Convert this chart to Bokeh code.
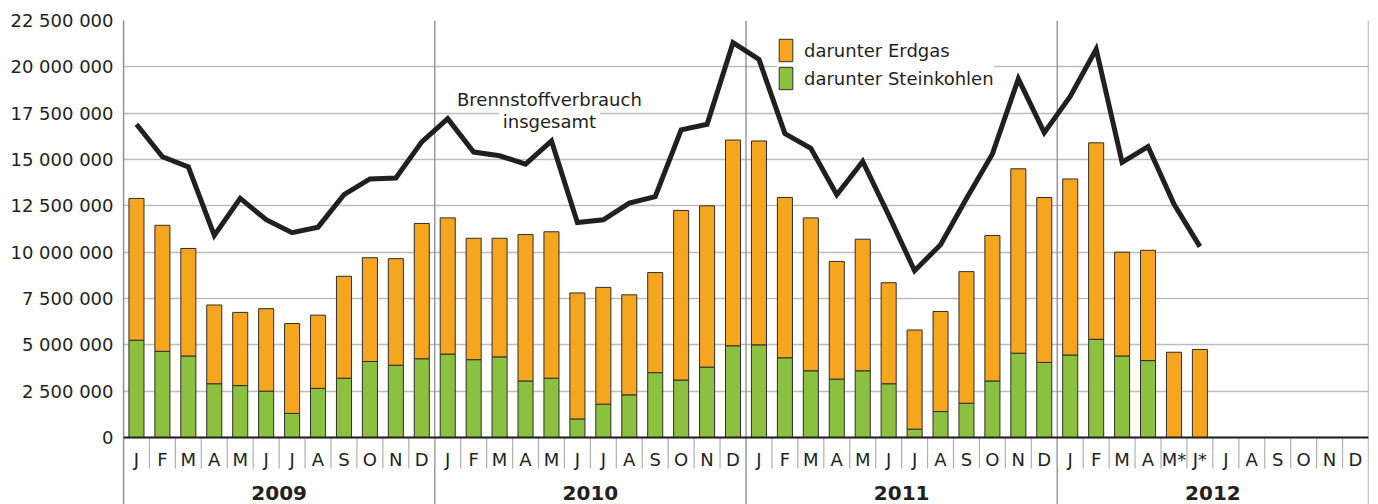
from bokeh.plotting import figure
from bokeh.models import Range1d, FixedTicker, Legend, LegendItem, Label, Span, ColumnDataSource
from bokeh.embed import file_html
from bokeh.resources import INLINE
from bokeh.core.properties import value

# ---------------- data ----------------
years = ["2009", "2010", "2011", "2012"]
month_letters = ["J", "F", "M", "A", "M", "J", "J", "A", "S", "O", "N", "D"]
month_labels = month_letters * 3 + ["J", "F", "M", "A", "M*", "J*", "J", "A", "S", "O", "N", "D"]

# bar height (Erdgas + Steinkohlen), months 2009-01 .. 2012-06
bar_total = [
    12900000, 11450000, 10200000, 7150000, 6750000, 6950000, 6150000, 6600000, 8700000, 9700000, 9650000, 11550000,
    11850000, 10750000, 10750000, 10950000, 11100000, 7800000, 8100000, 7700000, 8900000, 12250000, 12500000, 16050000,
    16000000, 12950000, 11850000, 9500000, 10700000, 8350000, 5800000, 6800000, 8950000, 10900000, 14500000, 12950000,
    13950000, 15900000, 10000000, 10100000, 4600000, 4750000,
]
steinkohlen = [
    5250000, 4650000, 4400000, 2900000, 2800000, 2500000, 1300000, 2650000, 3200000, 4100000, 3900000, 4250000,
    4500000, 4200000, 4350000, 3050000, 3200000, 1000000, 1800000, 2300000, 3500000, 3100000, 3800000, 4950000,
    5000000, 4300000, 3600000, 3150000, 3600000, 2900000, 450000, 1400000, 1850000, 3050000, 4550000, 4050000,
    4450000, 5300000, 4400000, 4150000, 0, 0,
]
brennstoff_gesamt = [
    16900000, 15150000, 14600000, 10900000, 12900000, 11750000, 11050000, 11350000, 13100000, 13950000, 14000000, 15950000,
    17200000, 15400000, 15200000, 14750000, 16000000, 11600000, 11750000, 12650000, 13000000, 16600000, 16900000, 21300000,
    20400000, 16400000, 15600000, 13100000, 14900000, 12000000, 9000000, 10400000, 12900000, 15300000, 19350000, 16450000,
    18400000, 20950000, 14850000, 15700000, 12600000, 10300000,
]
y_ticks = [0, 2500000, 5000000, 7500000, 10000000, 12500000, 15000000, 17500000, 20000000, 22500000]

# ---------------- style ----------------
FONT = "DejaVu Sans"
TXT = "#231f20"
ORANGE = "#F6A61E"
GREEN = "#8CC13F"
GRID = "#bcbcbc"
DIV = "#8c8c8c"

W, H = 1378, 504
TOP, LEFT, RIGHT = 20, 123, 10
ZERO_FROM_BOTTOM = 67       # px between zero line and bottom of frame
PLOT_PX = 417               # px for 0 .. 22.5 Mio
ymax = y_ticks[-1]
px = ymax / PLOT_PX         # data units per pixel
ymin = -ZERO_FROM_BOTTOM * px

n_slots = len(month_labels)
x_centers = [i + 0.5 for i in range(n_slots)]
n = len(bar_total)
erdgas = [t - s for t, s in zip(bar_total, steinkohlen)]

src = ColumnDataSource(dict(x=x_centers[:n], stein=steinkohlen, gas=erdgas))

p = figure(width=W, height=H, output_backend="svg", toolbar_location=None,
           x_range=Range1d(0, n_slots), y_range=Range1d(ymin, ymax),
           min_border_left=LEFT, min_border_right=RIGHT, min_border_top=TOP, min_border_bottom=0)
p.outline_line_color = None
p.background_fill_color = "white"
p.border_fill_color = "white"

# axes
p.xaxis.visible = False
p.xgrid.visible = False
p.yaxis.ticker = FixedTicker(ticks=y_ticks)
p.ygrid.ticker = FixedTicker(ticks=y_ticks)
p.yaxis.major_label_overrides = {t: f"{t:,}".replace(",", " ") for t in y_ticks}
p.yaxis.major_tick_out = 0
p.yaxis.major_tick_in = 0
p.yaxis.minor_tick_out = 0
p.yaxis.minor_tick_in = 0
p.yaxis.major_label_standoff = 10
p.yaxis.major_label_text_font = FONT
p.yaxis.major_label_text_font_size = "18px"
p.yaxis.major_label_text_color = TXT
p.yaxis.axis_line_color = DIV
p.yaxis.axis_line_width = 1.3
p.ygrid.grid_line_color = GRID
p.ygrid.grid_line_width = 1.6

# year dividers (full height) and month separators (below zero)
year_bounds = [12 * i for i in range(len(years) + 1)]
p.segment(x0=year_bounds, x1=year_bounds, y0=[ymin] * len(year_bounds), y1=[ymax] * len(year_bounds),
          line_color=DIV, line_width=1.3)
month_bounds = list(range(1, n_slots))
p.segment(x0=month_bounds, x1=month_bounds, y0=[0] * len(month_bounds), y1=[-31 * px] * len(month_bounds),
          line_color="#b0b0b0", line_width=1.2)

# bars
rs = p.vbar_stack(["stein", "gas"], x="x", width=0.58, source=src,
                  fill_color=[GREEN, ORANGE], line_color="#2e2e2e", line_width=1)

# total line
p.line(x_centers[:n], brennstoff_gesamt, line_color=TXT, line_width=5, line_join="miter")

# zero axis line
p.add_layout(Span(location=0, dimension="width", line_color=TXT, line_width=2))

# month labels & year labels
p.text(x=x_centers, y=[-22 * px] * n_slots, text=month_labels, text_align="center", text_baseline="middle",
       text_font=value(FONT), text_font_size="18px", text_color=TXT)
year_centers = [12 * i + 6 for i in range(len(years))]
p.text(x=year_centers, y=[-55 * px] * len(years), text=years, text_align="center", text_baseline="middle",
       text_font=value(FONT), text_font_size="20px", text_font_style="bold", text_color=TXT)

# annotation for the line
p.add_layout(Label(x=16.42, y=18240000, text="Brennstoffverbrauch", text_align="center", text_baseline="middle",
                   text_font=FONT, text_font_size="18px", text_color=TXT))
p.add_layout(Label(x=16.42, y=17050000, text="insgesamt", text_align="center", text_baseline="middle",
                   text_font=FONT, text_font_size="18px", text_color=TXT,
                   background_fill_color="white", padding=4))

# legend
legend = Legend(items=[LegendItem(label="darunter Erdgas", renderers=[rs[1]]),
                       LegendItem(label="darunter Steinkohlen", renderers=[rs[0]])],
                location=(654, 412), orientation="vertical",
                glyph_width=17, glyph_height=28, spacing=0, padding=6, margin=0, label_standoff=10,
                label_text_font=FONT, label_text_font_size="18px", label_text_color=TXT,
                border_line_color=None, background_fill_color="white", background_fill_alpha=1.0)
p.add_layout(legend)

open("out.html", "w").write(file_html(p, INLINE))
